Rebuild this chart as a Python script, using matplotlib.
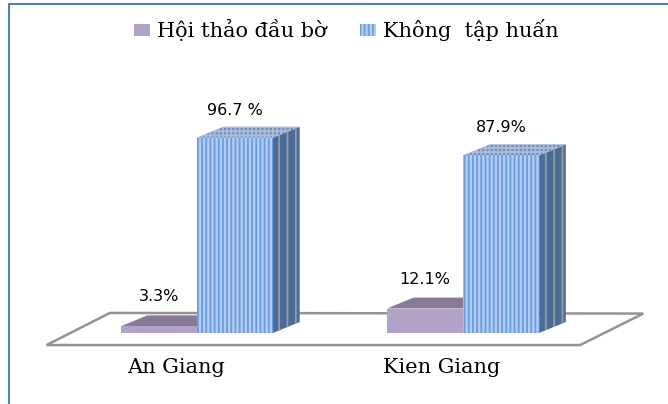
import matplotlib
matplotlib.use('Agg')
import matplotlib.pyplot as plt
from matplotlib.patches import Polygon, Rectangle, Patch

# số liệu theo tỉnh (%)
tinh = ['An Giang', 'Kien Giang']
hoi_thao = [3.3, 12.1]
khong_tap_huan = [96.7, 87.9]
nhan_hoi_thao = ['3.3%', '12.1%']
nhan_khong = ['96.7 %', '87.9%']
ten_nhom = ['Hội thảo đầu bờ', 'Không  tập huấn']

plt.rcParams['hatch.linewidth'] = 1.3

fig = plt.figure(figsize=(6.68, 4.04), dpi=100)
ax = fig.add_axes([0, 0, 1, 1])
ax.set_xlim(-0.74, 1.77)
ax.set_ylim(-35.2, 164.9)
ax.axis('off')

w = 0.286          # bề rộng mỗi cột
dx, dy = 0.1, 5.4  # độ sâu giả 3D

# màu từng mặt: (face, edge/hatch, hatch)
tim = dict(front=('#b3a2c7', '#b3a2c7', None),
           top=('#877a96', '#877a96', None),
           side=('#8d7fa0', '#8d7fa0', None))
xanh = dict(front=('#b3cdf1', '#6b9de2', '||||'),
            top=('#7390ba', '#a9bcd8', '++++'),
            side=('#4a6a97', '#979da6', '||'))


def cot3d(x, v, mau, z):
    x0, x1 = x - w / 2, x + w / 2
    fc, ec, h = mau['side']
    ax.add_patch(Polygon([(x1, 0), (x1 + dx, dy), (x1 + dx, v + dy), (x1, v)],
                         facecolor=fc, edgecolor=ec, hatch=h, lw=0, zorder=z))
    fc, ec, h = mau['top']
    ax.add_patch(Polygon([(x0, v), (x0 + dx, v + dy), (x1 + dx, v + dy), (x1, v)],
                         facecolor=fc, edgecolor=ec, hatch=h, lw=0, zorder=z))
    fc, ec, h = mau['front']
    ax.bar(x, v, w, facecolor=fc, edgecolor=ec, hatch=h, lw=0, zorder=z + 0.5)


# mặt sàn
n = len(tinh)
ax.add_patch(Polygon([(-0.565, -6), (-0.327, 9.9), (n - 1 + 0.677, 9.6), (n - 1 + 0.44, -6)],
                     facecolor='white', edgecolor='#939393', lw=1.8, zorder=1))

for i in range(n):
    cot3d(i - w / 2, hoi_thao[i], tim, 2)
    cot3d(i + w / 2, khong_tap_huan[i], xanh, 4)
    ax.text(i - w / 2, hoi_thao[i] + 14.5, nhan_hoi_thao[i], ha='center', va='center',
            fontsize=11.5, family='DejaVu Sans')
    ax.text(i + w / 2, khong_tap_huan[i] + 13.7, nhan_khong[i], ha='center', va='center',
            fontsize=11.5, family='DejaVu Sans')
    ax.text(i - 0.08, -17.3, tinh[i], ha='center', va='center',
            fontsize=15, family='DejaVu Serif')

tay = [Patch(facecolor='#b3a2c7', edgecolor='#b3a2c7', lw=0),
       Patch(facecolor='#b3cdf1', edgecolor='#6b9de2', hatch='||||', lw=0)]
fig.legend(tay, ten_nhom, loc='center', bbox_to_anchor=(346 / 668, 1 - 30 / 404),
           ncol=2, frameon=False, prop=dict(family='DejaVu Serif', size=15),
           handlelength=0.8, handleheight=0.5, handletextpad=0.3, columnspacing=1.6)

# khung viền
fig.add_artist(Rectangle((9 / 668, -0.1), 1.2, 1.1 - 4.5 / 404, transform=fig.transFigure,
                         fill=False, edgecolor='#4f81bd', lw=1.5))

fig.savefig('out.png', dpi=100)
